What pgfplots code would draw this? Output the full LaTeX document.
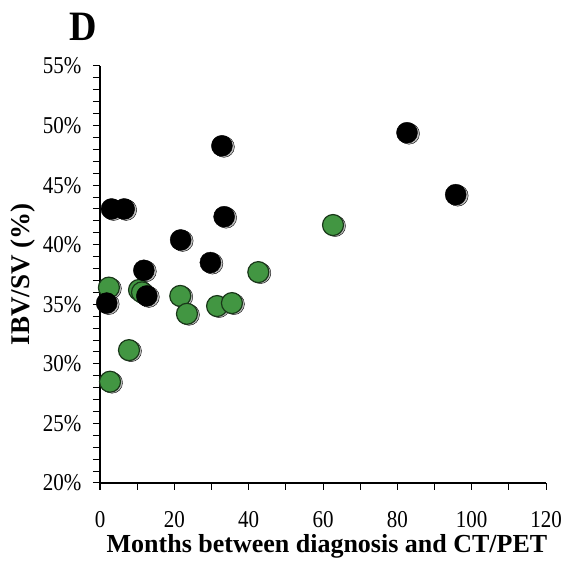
\documentclass[border=0pt]{standalone}
\usepackage{pgfplots}
\pgfplotsset{compat=1.18}
\usepackage{fontspec}
\setmainfont{Liberation Serif}
\definecolor{gfill}{RGB}{66,150,66}
\definecolor{gline}{RGB}{25,55,25}
\begin{document}
\begin{tikzpicture}[x=1pt,y=1pt]
\useasboundingbox (0,0) rectangle (563,561);
\begin{axis}[
  at={(100pt,78pt)}, anchor=south west,
  scale only axis, width=446pt, height=417pt,
  xmin=0, xmax=120, ymin=20, ymax=55,
  axis x line=bottom, axis y line=left,
  axis line style={-, line width=1.1pt},
  xtick={0,20,...,120}, minor x tick num=1,
  ytick={20,25,...,55}, minor y tick num=4,
  tick align=outside,
  major tick length=7pt, minor tick length=7pt,
  every tick/.style={black, line width=1pt},
  /pgf/number format/assume math mode=true,
  tick label style={font=\fontsize{21}{24}\selectfont},
  xticklabel={\scalebox{1}[1.15]{\pgfmathprintnumber{\tick}}},
  yticklabel={\scalebox{1}[1.15]{\pgfmathprintnumber{\tick}\%}},
  xticklabel style={yshift=-18pt},
  yticklabel style={xshift=-8pt},
  xlabel={\textbf{Months between diagnosis and CT/PET}},
  ylabel={\textbf{IBV/SV (\%)}},
  xlabel style={font=\fontsize{26}{30}\selectfont, yshift=0pt, xshift=4pt},
  ylabel style={font=\fontsize{27}{30}\selectfont, yshift=1pt},
  clip=false,
]
% shadows
\addplot[only marks, mark=*, mark size=10.5pt, draw=none, fill=black!25,
  mark options={xshift=2pt, yshift=-1pt, draw=none, fill=black!25}] coordinates {
  (3.1,43.0) (6.5,43.0) (32.8,48.3) (82.6,49.4) (95.7,44.2) (33.4,42.35)
  (21.7,40.4) (29.7,38.5) (11.8,37.85) (12.6,35.7) (1.8,35.1)
  (2.4,36.4) (10.5,36.2) (11.3,36.0) (21.6,35.7) (23.4,34.2) (31.5,34.85)
  (35.5,35.1) (42.6,37.7) (62.7,41.65) (7.8,31.15) (2.7,28.5)
};
% green series
\addplot[only marks, mark=*, mark size=10.5pt,
  mark options={draw=gline, fill=gfill, line width=1.2pt}] coordinates {
  (2.4,36.4) (10.5,36.2) (11.3,36.0) (21.6,35.7) (23.4,34.2) (31.5,34.85)
  (35.5,35.1) (42.6,37.7) (62.7,41.65) (7.8,31.15) (2.7,28.5)
};
% black series
\addplot[only marks, mark=*, mark size=10.5pt,
  mark options={draw=black, fill=black}] coordinates {
  (3.1,43.0) (6.5,43.0) (32.8,48.3) (82.6,49.4) (95.7,44.2) (33.4,42.35)
  (21.7,40.4) (29.7,38.5) (11.8,37.85) (12.6,35.7) (1.8,35.1)
};
\end{axis}
\node[font=\fontsize{38}{42}\selectfont\bfseries] at (83,534) {\scalebox{1}[1.1]{D}};
\end{tikzpicture}
\end{document}
